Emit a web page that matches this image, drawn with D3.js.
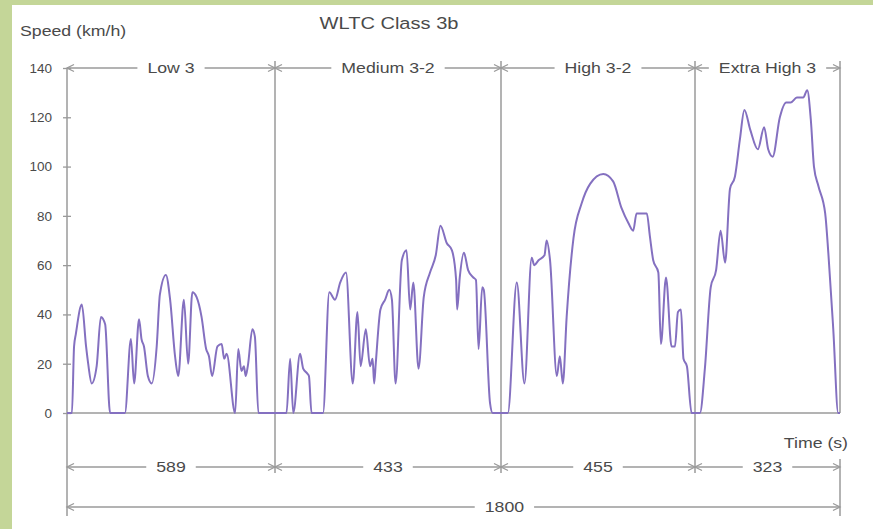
<!DOCTYPE html>
<html>
<head>
<meta charset="utf-8">
<script src="https://cdn.jsdelivr.net/npm/d3@7"></script>
<style>
  body { margin: 0; background: #fff; }
  svg { display: block; }
  text { font-family: "Liberation Sans", Arial, sans-serif; fill: #4a4a4a; }
</style>
</head>
<body>
<svg id="chart" width="873" height="529"></svg>
<script>
  // ---- data ----
  const phaseNames = ["Low 3", "Medium 3-2", "High 3-2", "Extra High 3"];
  const phaseDurations = [589, 433, 455, 323];
  const totalDuration = 1800;
  const yTicks = [0, 20, 40, 60, 80, 100, 120, 140];

  // [time (s), speed (km/h)]
  const lowSpeed = [
    [0, 0], [14, 0], [20, 27], [25, 32], [42, 44], [54, 27], [60, 20], [70, 12], [84, 19],
    [96, 39], [108, 36], [122, 0], [164, 0], [181, 30], [190, 12], [204, 38], [211, 30],
    [218, 27], [229, 15], [240, 12], [254, 27], [263, 48], [280, 56], [292, 46], [306, 23],
    [315, 15], [331, 46], [343, 20], [355, 49], [367, 47], [381, 39], [394, 26], [402, 23],
    [411, 15], [426, 27], [438, 28], [445, 22], [452, 24], [476, 0], [485, 26], [494, 17],
    [501, 19], [506, 15], [512, 19], [525, 34], [532, 31], [542, 0], [589, 0]
  ];
  const mediumSpeed = [
    [611, 0], [618, 22], [624, 0], [637, 24], [643, 18], [651, 16], [654, 15], [659, 0],
    [681, 0], [693, 49], [704, 46], [714, 53], [725, 57], [738, 12], [747, 41], [753, 19],
    [763, 34], [771, 19], [776, 22], [779, 12], [782, 20], [791, 42], [800, 46], [808, 50],
    [813, 46], [820, 12], [832, 62], [841, 66], [848, 42], [854, 53], [864, 18], [874, 47],
    [886, 57], [897, 64], [906, 76], [918, 69], [928, 66], [936, 54], [938, 42], [943, 55],
    [951, 65], [959, 58], [969, 55], [974, 54], [979, 26], [986, 51], [989, 50], [1001, 4],
    [1006, 0], [1022, 0]
  ];
  const highSpeed = [
    [1038, 0], [1059, 53], [1077, 12], [1094, 63], [1100, 60], [1110, 62], [1124, 64],
    [1129, 70], [1137, 62], [1153, 15], [1160, 23], [1167, 12], [1176, 39], [1192, 71],
    [1211, 85], [1231, 93], [1262, 97], [1285, 94], [1305, 83], [1321, 77], [1332, 74],
    [1340, 81], [1356, 81], [1364, 81], [1371, 72], [1379, 62], [1391, 57], [1397, 28],
    [1409, 55], [1422, 27], [1430, 27], [1437, 41], [1444, 42], [1450, 22], [1458, 19],
    [1469, 0], [1477, 0]
  ];
  const extraHighSpeed = [
    [1488, 0], [1499, 18], [1512, 51], [1524, 58], [1534, 74], [1544, 61], [1555, 91],
    [1566, 96], [1577, 111], [1587, 123], [1600, 115], [1617, 107], [1631, 116], [1640, 107],
    [1650, 104], [1666, 120], [1680, 126], [1690, 126], [1704, 128], [1718, 128], [1727, 131],
    [1735, 119], [1742, 100], [1752, 92], [1767, 81], [1774, 65], [1785, 34], [1796, 0],
    [1800, 0]
  ];

  // ---- layout ----
  const svg = d3.select("#chart");
  const W = 873, H = 529;
  const axisColor = "#9a9a9a";
  const lineColor = "#8470c0";
  const textStretch = 1.18;

  // phase boundaries in seconds
  const bounds = [0];
  phaseDurations.forEach(d => bounds.push(bounds[bounds.length - 1] + d));

  // the source figure does not draw the phases to the same time scale
  const x = d3.scaleLinear().domain(bounds).range([67, 275, 501, 695, 840]);
  const y = d3.scaleLinear().domain([0, 140]).range([413, 68]);

  const rowTop = y(140), rowPhase = 467, rowTotal = 507;

  // green frame
  svg.append("rect").attr("width", W).attr("height", H).attr("fill", "#c4d698");
  svg.append("rect").attr("x", 12).attr("y", 5).attr("width", W - 12).attr("height", H - 5).attr("fill", "#fff");

  function label(g, tx, ty, str, size, anchor) {
    return g.append("text")
      .attr("transform", `translate(${tx},${ty}) scale(${textStretch},1)`)
      .attr("text-anchor", anchor || "middle")
      .attr("dominant-baseline", "central")
      .attr("font-size", size)
      .text(str);
  }

  // label sitting on a white patch that breaks the dimension line
  function gapLabel(g, cx, cy, str) {
    const bg = g.append("rect").attr("fill", "#fff");
    const t = label(g, cx, cy, str, 15);
    const w = t.node().getBBox().width * textStretch;
    bg.attr("x", cx - w / 2 - 10).attr("y", cy - 6).attr("width", w + 20).attr("height", 12);
  }

  function arrowHead(g, ax, ay, dir) {
    g.append("path")
      .attr("d", `M${ax - dir * 7},${ay - 3.5}L${ax},${ay}L${ax - dir * 7},${ay + 3.5}`)
      .attr("fill", "none").attr("stroke", axisColor).attr("stroke-width", 1.3);
  }

  // dimension line between two times
  function dimension(g, t0, t1, ry) {
    const x0 = x(t0), x1 = x(t1);
    g.append("line").attr("x1", x0).attr("x2", x1).attr("y1", ry).attr("y2", ry)
      .attr("stroke", axisColor).attr("stroke-width", 1.3);
    arrowHead(g, x0, ry, -1);
    arrowHead(g, x1, ry, 1);
  }

  const frame = svg.append("g");

  // y axis
  const yAxis = frame.append("g").attr("transform", `translate(${x(0)},0)`)
    .call(d3.axisLeft(y).tickValues(yTicks).tickSize(4).tickPadding(11));
  yAxis.select(".domain").remove();
  yAxis.selectAll(".tick line").attr("stroke", axisColor).attr("stroke-width", 1.3);
  yAxis.selectAll(".tick text").attr("font-size", 13.5).attr("fill", "#4a4a4a")
    .attr("font-family", "Liberation Sans, Arial, sans-serif");
  yAxis.selectAll(".tick").append("line").attr("x2", 4).attr("stroke", axisColor).attr("stroke-width", 1.3);

  frame.append("line").attr("x1", x(0)).attr("x2", x(0)).attr("y1", rowTop).attr("y2", 516)
    .attr("stroke", axisColor).attr("stroke-width", 1.5);
  // zero line
  frame.append("line").attr("x1", x(0)).attr("x2", x(totalDuration)).attr("y1", y(0)).attr("y2", y(0))
    .attr("stroke", axisColor).attr("stroke-width", 1.5);

  // phase boundary verticals
  bounds.slice(1, -1).forEach(b => {
    frame.append("line").attr("x1", x(b)).attr("x2", x(b)).attr("y1", rowTop - 7).attr("y2", rowPhase + 6)
      .attr("stroke", axisColor).attr("stroke-width", 1.5);
  });
  frame.append("line").attr("x1", x(totalDuration)).attr("x2", x(totalDuration))
    .attr("y1", rowTop - 7).attr("y2", y(0)).attr("stroke", axisColor).attr("stroke-width", 1.5);
  frame.append("line").attr("x1", x(totalDuration)).attr("x2", x(totalDuration))
    .attr("y1", rowPhase - 8).attr("y2", 516).attr("stroke", axisColor).attr("stroke-width", 1.5);

  // dimension rows
  phaseNames.forEach((name, i) => {
    const cx = (x(bounds[i]) + x(bounds[i + 1])) / 2;
    dimension(frame, bounds[i], bounds[i + 1], rowTop);
    gapLabel(frame, cx, rowTop, name);
    dimension(frame, bounds[i], bounds[i + 1], rowPhase);
    gapLabel(frame, cx, rowPhase, String(phaseDurations[i]));
  });
  dimension(frame, 0, totalDuration, rowTotal);
  gapLabel(frame, x(1030), rowTotal, String(totalDuration));

  // speed trace
  const trace = lowSpeed.concat(mediumSpeed, highSpeed, extraHighSpeed);
  svg.append("path")
    .datum(trace)
    .attr("fill", "none")
    .attr("stroke", lineColor)
    .attr("stroke-width", 2)
    .attr("stroke-linejoin", "round")
    .attr("d", d3.line().x(d => x(d[0])).y(d => y(d[1])).curve(d3.curveMonotoneX));

  // titles
  label(svg, 389, 23, "WLTC Class 3b", 17);
  label(svg, 20, 31, "Speed (km/h)", 15, "start");
  label(svg, 848, 443, "Time (s)", 15, "end");
</script>
</body>
</html>
